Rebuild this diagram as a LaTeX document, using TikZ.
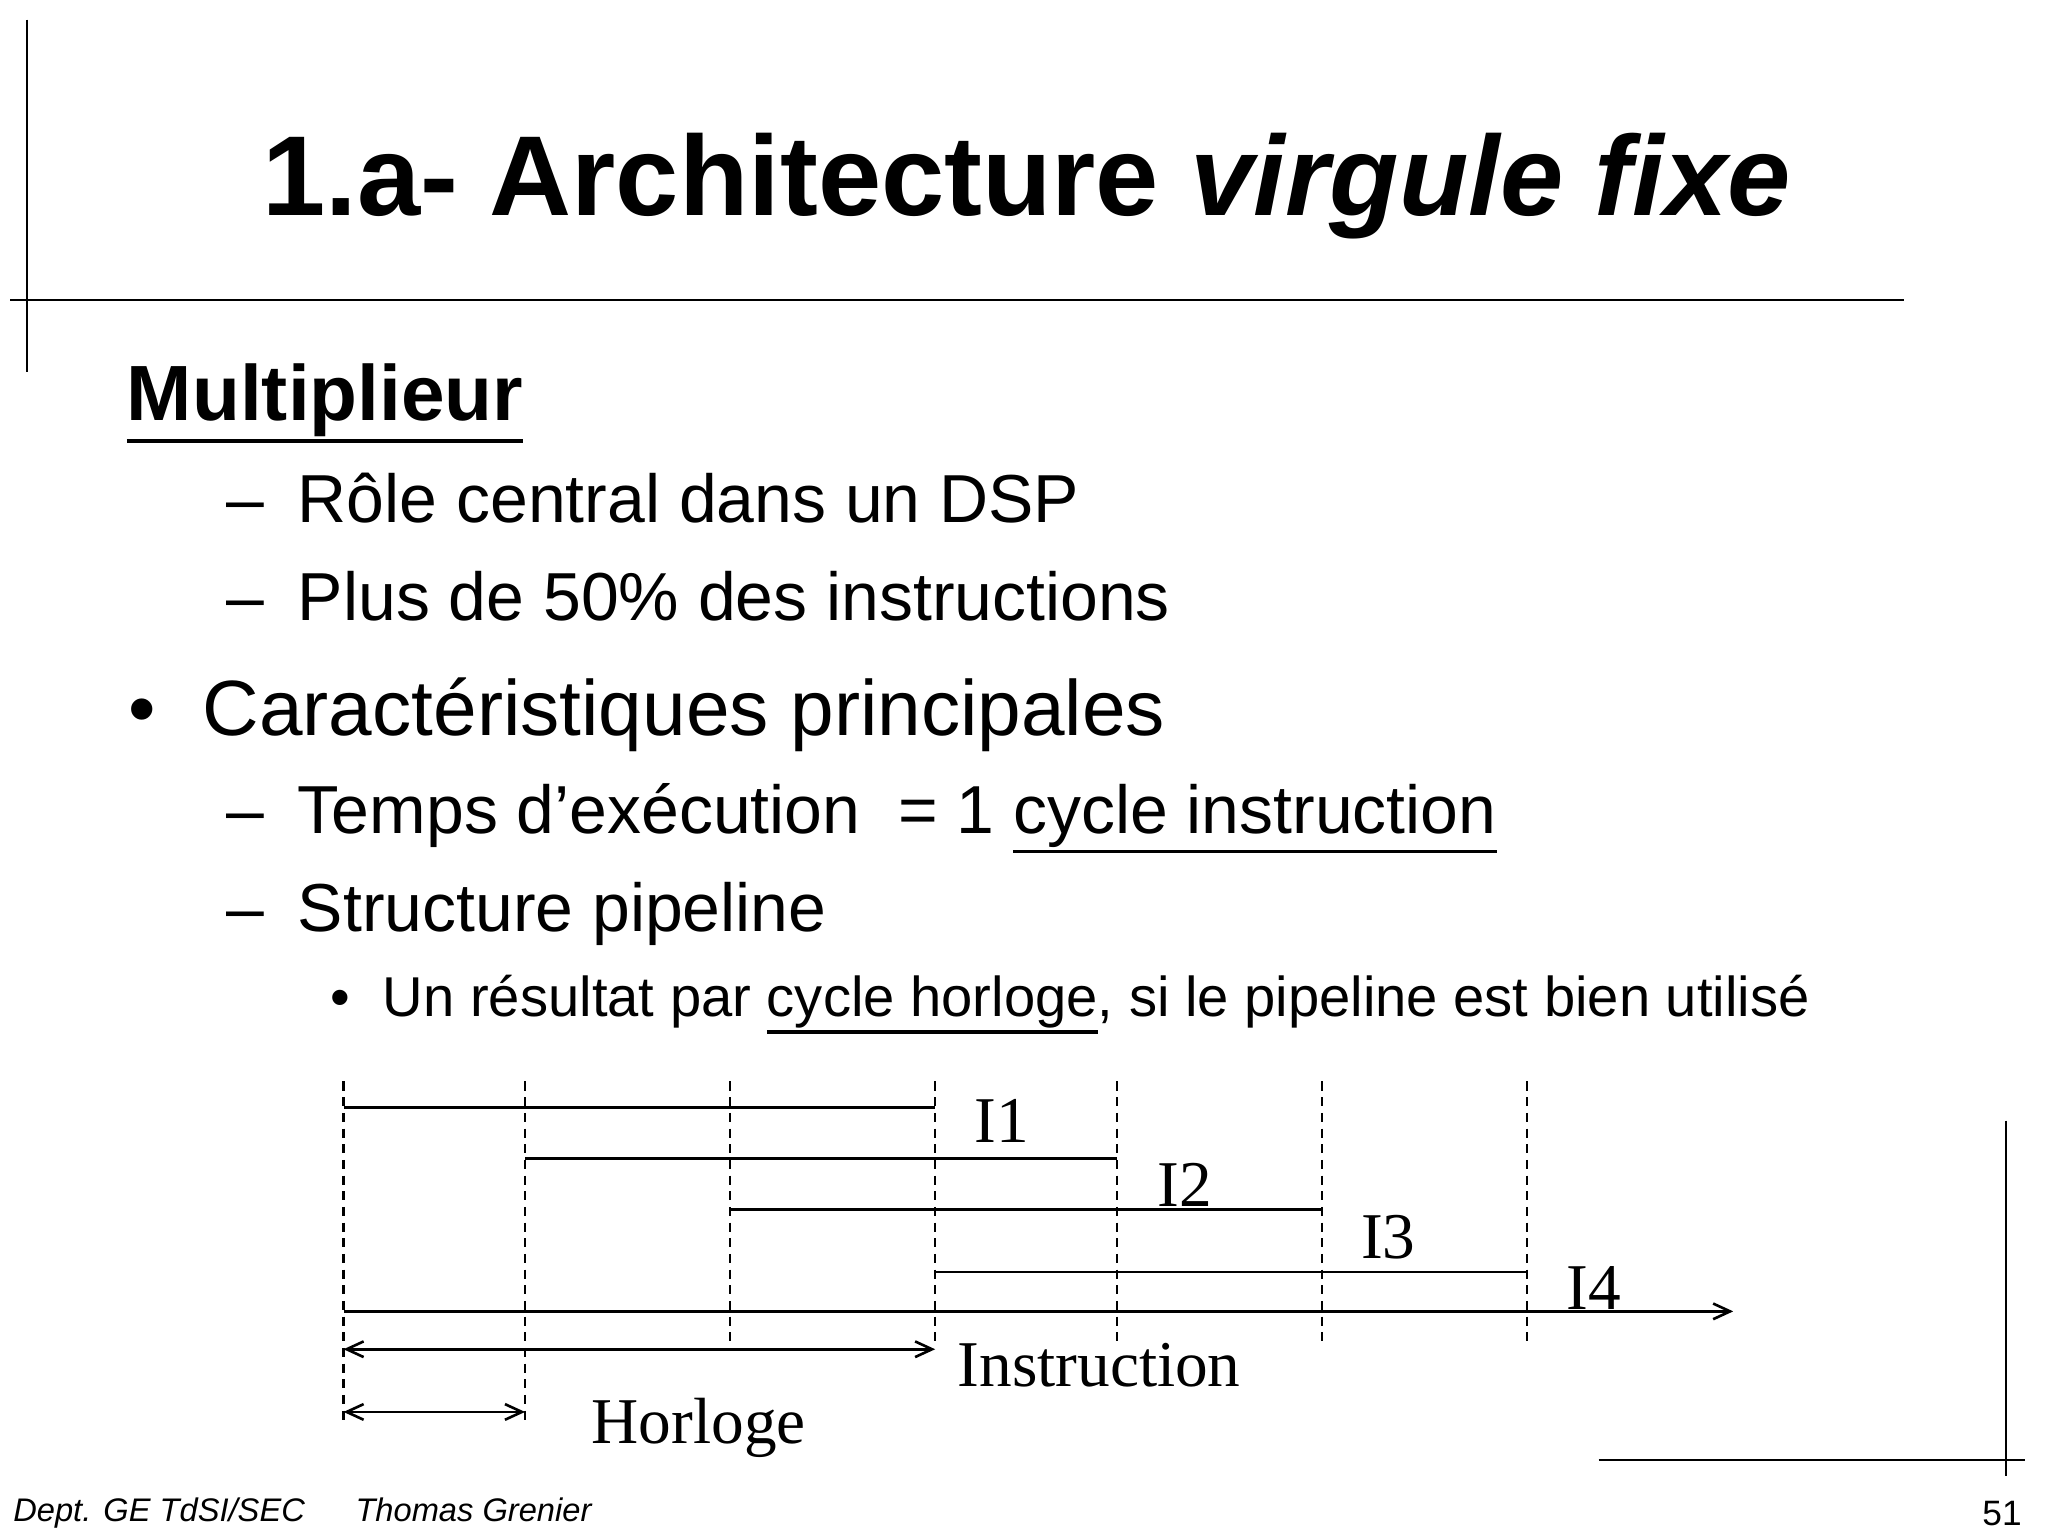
\documentclass[tikz,border=0pt]{standalone}
\usepackage{fontspec}
\usetikzlibrary{arrows.meta}
\setmainfont{Liberation Sans}
\newfontfamily\tms{Liberation Serif}
\newcommand\ulx[1]{\leavevmode\vtop{\hbox{#1}\kern2pt\hrule height 2.4pt}}
\begin{document}
\begin{tikzpicture}[x=1pt,y=-1pt,
  txt/.style={anchor=base west,inner sep=0pt},
  vdash/.style={line width=1.6pt,dash pattern=on 7pt off 5pt},
  bar/.style={line width=2pt},
  tip/.style={line width=2pt,{Straight Barb[length=13pt,width=12pt,line width=2pt]}-{Straight Barb[length=13pt,width=12pt,line width=2pt]}},
  lab/.style={inner sep=0pt,font=\tms\fontsize{50}{50}\selectfont},
  frame/.style={line width=1.5pt}]
\useasboundingbox (0,0) rectangle (1568,1176);
% frame lines
\draw[frame] (21,15) -- (21,285);
\draw[frame] (8,230) -- (1458,230);
\draw[frame] (1536,858) -- (1536,1130);
\draw[frame] (1224,1118) -- (1550,1118);
% title
\node[anchor=base,inner sep=0pt,font=\bfseries\fontsize{87}{87}\selectfont] (title) at (786,165) {1.a- Architecture \textit{virgule fixe}};
\node[txt,font=\bfseries\fontsize{60}{60}\selectfont] (mult) at (97,322) {\ulx{Multiplieur}};
\node[txt,font=\fontsize{52}{52}\selectfont] (r1) at (173,400) {–\hspace{0.5em}Rôle central dans un DSP};
\node[txt,font=\fontsize{52}{52}\selectfont] (r2) at (173,475) {–\hspace{0.5em}Plus de 50\% des instructions};
\node[txt,font=\fontsize{60}{60}\selectfont] (b1) at (98,563) {•};
\node[txt,font=\fontsize{60}{60}\selectfont] (car) at (155,563) {Caractéristiques principales};
\node[txt,font=\fontsize{52}{52}\selectfont] (r3) at (173,638) {–\hspace{0.5em}Temps d’exécution\ \ = 1 \ulx{cycle instruction}};
\node[txt,font=\fontsize{52}{52}\selectfont] (r4) at (173,713) {–\hspace{0.5em}Structure pipeline};
\node[txt,font=\fontsize{43}{43}\selectfont] (b2) at (253,778) {•};
\node[txt,font=\fontsize{43}{43}\selectfont] (un) at (293,778) {Un résultat par \ulx{cycle horloge}, si le pipeline est bien utilisé};
% footer
\node[txt,font=\itshape\fontsize{25}{25}\selectfont] (foot) at (10,1165) {Dept. GE TdSI/SEC};
\node[txt,font=\itshape\fontsize{25}{25}\selectfont] (foot2) at (272,1165) {Thomas Grenier};
\node[anchor=base east,inner sep=0pt,font=\fontsize{27}{27}\selectfont] (num) at (1548,1168) {51};
% diagram
\foreach \x/\b in {263/1090,402/1090,559/1027,716/1030,855/1027,1012/1027,1169/1027}
  \draw[vdash] (\x,828) -- (\x,\b);
\coordinate (i1a) at (263,848); \coordinate (i1b) at (716,848);
\coordinate (i2a) at (402,887); \coordinate (i2b) at (855,887);
\coordinate (i3a) at (559,926); \coordinate (i3b) at (1012,926);
\coordinate (i4a) at (716,974); \coordinate (i4b) at (1169,974);
\coordinate (axa) at (263,1004); \coordinate (axb) at (1327,1004);
\coordinate (ina) at (263,1033); \coordinate (inb) at (716,1033);
\coordinate (hoa) at (263,1081); \coordinate (hob) at (402,1081);
\draw[bar] (i1a) -- (i1b);
\draw[bar] (i2a) -- (i2b);
\draw[bar] (i3a) -- (i3b);
\draw[bar] (i4a) -- (i4b);
\draw[bar,-{Straight Barb[length=13pt,width=12pt,line width=2pt]}] (axa) -- (axb);
\draw[tip] (ina) -- (inb);
\draw[tip] (hoa) -- (hob);
\node[lab] (l1) at (767,858) {I1};
\node[lab] (l2) at (907,907) {I2};
\node[lab] (l3) at (1063,947) {I3};
\node[lab] (l4) at (1220,986) {I4};
\node[lab,anchor=west] (lin) at (733,1045) {Instruction};
\node[lab] (lho) at (535,1093) {Horloge};
\end{tikzpicture}
\end{document}
